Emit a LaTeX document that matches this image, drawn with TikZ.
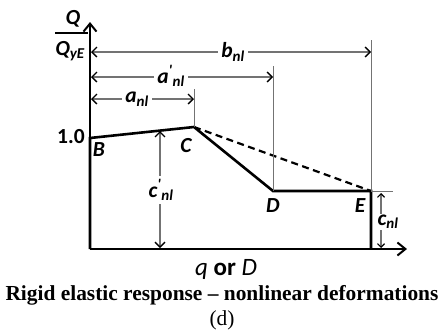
\documentclass[tikz,border=0pt]{standalone}
\usepackage{fontspec}
\setmainfont{Liberation Serif}
\newfontfamily\lblfont{Carlito}
\usetikzlibrary{arrows.meta, calc}

\newcommand{\nlsub}{\textsubscript{nl}}

\begin{document}
\begin{tikzpicture}[
		x=1pt, y=-1pt,
		% Style for the axes and the response curve
		axis/.style={line width=2.2pt, -{Straight Barb[length=8pt, width=13pt, line width=2pt]}},
		curve/.style={line width=2.6pt, line join=miter},
		% Dimension lines
		dim/.style={draw=black!55, line width=1.2pt,
			{Straight Barb[black, length=5pt, width=10pt, line width=1.3pt]}-{Straight Barb[black, length=5pt, width=10pt, line width=1.3pt]}},
		dim small/.style={draw=black!55, line width=1.1pt,
			{Straight Barb[black, length=3.5pt, width=7pt, line width=1.2pt]}-{Straight Barb[black, length=3.5pt, width=7pt, line width=1.2pt]}},
		ext/.style={draw=black!55, line width=1pt},
		% Labels
		lbl/.style={font=\lblfont\bfseries\itshape\fontsize{21.5}{23}\selectfont, inner sep=1pt},
		dim label/.style={lbl, fill=white, inner sep=3pt},
		caption/.style={font=\fontsize{21.4}{23}\selectfont, inner sep=0pt, anchor=base}
		]
		\useasboundingbox (0,0) rectangle (444,335);

		% Points of the response curve
		\coordinate (O) at (90,249);
		\coordinate (B) at (90,138);
		\coordinate (C) at (194,127);
		\coordinate (D) at (273,191);
		\coordinate (E) at (371,191);
		\coordinate (Ebot) at (371,249);
		\coordinate (yTop) at (90,22);
		\coordinate (xEnd) at (407,249);

		% Axes
		\draw[axis] (O) -- (yTop);
		\draw[axis] (O) -- (xEnd);
		\node[lbl] (Qtop) at (73,19) {Q};
		\node[lbl] (Qbot) at (70,51) {Q\textsubscript{yE}};
		\draw[line width=1.1pt] (55,33) -- (88,33);
		\node[lbl, font=\lblfont\bfseries\fontsize{21.5}{23}\selectfont] (one) at (71,137) {1.0};

		% Response curve
		\draw[curve] (O) -- (B) -- (C) -- (D) -- (E) -- (Ebot);
		\draw[curve, line width=2.2pt, dash pattern=on 7pt off 4.5pt] (C) -- (E);
		\node[lbl] (lblB) at (99,150) {B};
		\node[lbl] (lblC) at (186,146) {C};
		\node[lbl] (lblD) at (273,206) {D};
		\node[lbl] (lblE) at (360,206) {E};

		% Extension lines
		\coordinate (bTick) at (371,40);
		\coordinate (aaTick) at (273,66);
		\coordinate (aTick) at (194,89);
		\coordinate (cTick) at (393,191);
		\draw[ext] (bTick) -- (E);
		\draw[ext] (aaTick) -- (D);
		\draw[ext] (aTick) -- (C);
		\draw[ext] (E) -- (cTick);

		% Dimension lines
		\coordinate (bL) at (91,52);
		\coordinate (bR) at (371,52);
		\coordinate (aaL) at (91,77);
		\coordinate (aaR) at (273,77);
		\coordinate (aL) at (91,99);
		\coordinate (aR) at (194,99);
		\coordinate (ccTop) at (160,131);
		\coordinate (ccBot) at (160,248);
		\coordinate (cTop) at (381,193);
		\coordinate (cBot) at (381,248);
		\draw[dim] (bL) -- (bR);
		\draw[dim] (aaL) -- (aaR);
		\draw[dim] (aL) -- (aR);
		\draw[dim] (ccTop) -- (ccBot);
		\draw[dim small] (cTop) -- (cBot);
		\node[dim label] (lblb) at (233,52) {b\nlsub};
		\node[dim label] (lblaa) at (171,76) {a\textsuperscript{'}\nlsub};
		\node[dim label] (lbla) at (137,99) {a\nlsub};
		\node[dim label] (lblcc) at (161,190) {c\textsuperscript{'}\nlsub};
		\node[dim label, inner sep=1pt] (lblc) at (388,222) {c\nlsub};

		% Captions
		\node[inner sep=0pt, anchor=base, font=\lblfont\fontsize{25}{26}\selectfont] (xlbl) at (226,275) {\itshape q \upshape\bfseries or \mdseries\itshape D};
		\node[caption, font=\bfseries\fontsize{21.4}{23}\selectfont] (title) at (222,300) {Rigid elastic response -- nonlinear deformations};
		\node[caption] (sub) at (222,325) {(d)};
	\end{tikzpicture}
\end{document}
